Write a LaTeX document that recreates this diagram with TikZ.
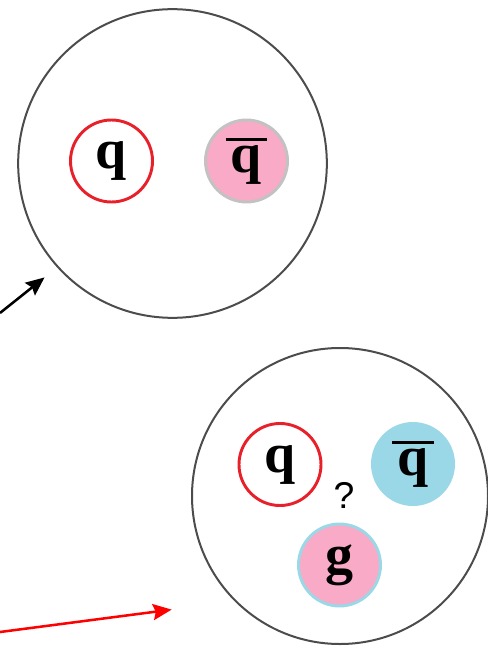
\documentclass[tikz,border=0pt]{standalone}
\usepackage{fontspec}
\setmainfont{Liberation Serif}
\newfontfamily\qmarkfont{Liberation Sans}
\usetikzlibrary{arrows.meta}
\definecolor{quarkred}{HTML}{E8202A}
\definecolor{pinkfill}{HTML}{F9AAC6}
\definecolor{bluefill}{HTML}{9AD8E8}
\definecolor{ringgray}{HTML}{C2C2C2}
\definecolor{arrowred}{HTML}{FF0000}

\newcommand{\antiq}{\vbox{\hrule height 2.3pt\kern3.2pt\hbox{\kern4pt q\kern4pt}}}

\begin{document}
\begin{tikzpicture}[x=0.75pt, y=-0.75pt, >={Stealth[length=14pt, width=12pt, inset=2pt]},
    hadron/.style={draw=black!70, line width=1.5pt, circle, inner sep=0pt},
    parton/.style={circle, minimum size=61.5pt, inner sep=0pt, line width=2.2pt,
      font=\fontsize{42}{42}\selectfont\bfseries}]
  \useasboundingbox (0,0) rectangle (488,649);

  % meson: q qbar
  \node[hadron, minimum size=231.5pt] (meson) at (172.5,163.5) {};
  \node[parton, draw=quarkred] (q1) at (111.5,161) {q};
  \node[parton, draw=ringgray, fill=pinkfill] (qbar1) at (246.5,161) {\antiq};

  % hybrid: q qbar g
  \node[hadron, minimum size=222pt] (hybrid) at (340,496) {};
  \node[parton, draw=quarkred] (q2) at (280,464.5) {q};
  \node[parton, fill=bluefill, minimum size=63pt] (qbar2) at (413,464) {\antiq};
  \node[parton, draw=bluefill, fill=pinkfill] (glue) at (339.5,565) {g};
  \node[font=\qmarkfont\fontsize{28}{28}\selectfont] (ask) at (344,495) {?};

  \coordinate (inA) at (0,313);
  \coordinate (inB) at (0,632);
  \draw[->, line width=1.9pt, shorten >=16pt*0.75] (inA) -- (meson.222);
  \draw[->, arrowred, line width=1.9pt, shorten >=63.5pt*0.75] (inB) -- (hybrid.225);
\end{tikzpicture}
\end{document}
